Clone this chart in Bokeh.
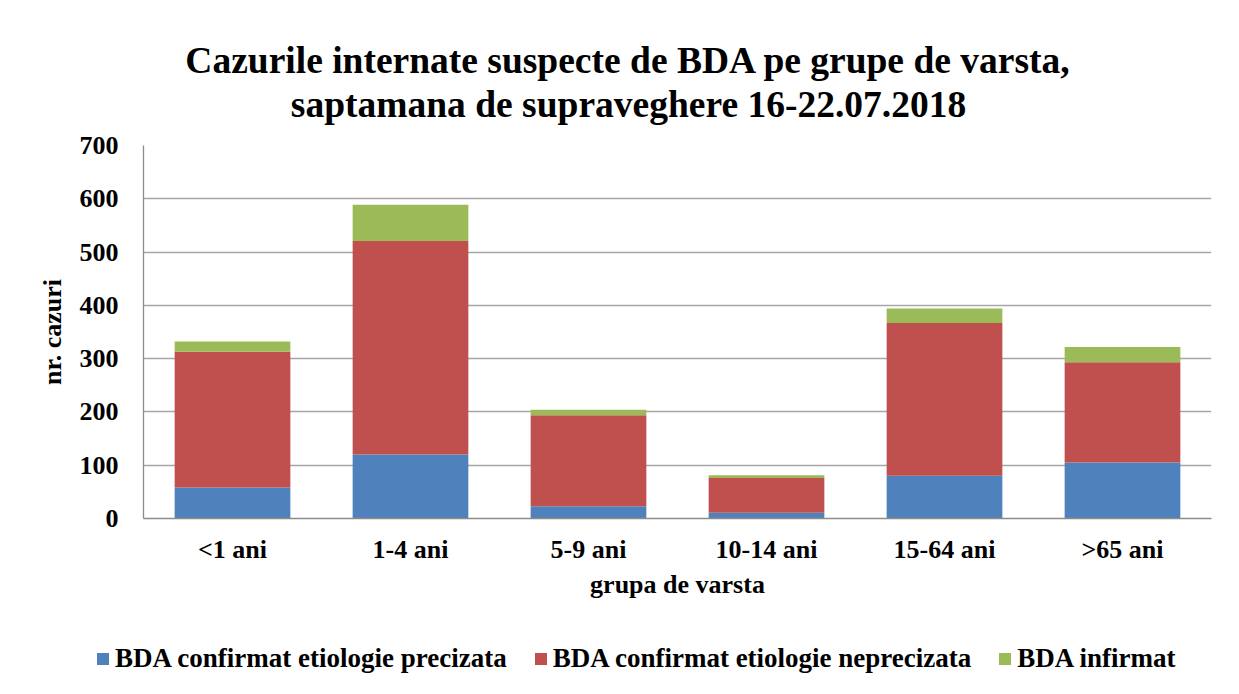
from bokeh.plotting import figure
from bokeh.layouts import column
from bokeh.models import (ColumnDataSource, FactorRange, Range1d, Label, Legend,
                          LegendItem, SingleIntervalTicker)
from bokeh.embed import file_html
from bokeh.resources import INLINE

categories = ["<1 ani", "1-4 ani", "5-9 ani", "10-14 ani", "15-64 ani", ">65 ani"]
precizata = [58, 120, 23, 11, 80, 105]
neprecizata = [255, 401, 171, 65, 287, 188]
infirmat = [19, 68, 10, 5, 27, 29]
series_names = ["BDA confirmat etiologie precizata",
                "BDA confirmat etiologie neprecizata",
                "BDA infirmat"]
series_keys = ["precizata", "neprecizata", "infirmat"]
colors = ["#4F81BD", "#C0504D", "#9BBB59"]
title_lines = ["Cazurile internate suspecte de BDA pe grupe de varsta,",
               "saptamana de supraveghere 16-22.07.2018"]

FONT = "Liberation Serif"
W = 1231

source = ColumnDataSource(dict(cat=categories, precizata=precizata,
                               neprecizata=neprecizata, infirmat=infirmat))


def strip_fig(h, x_range, y_range):
    f = figure(width=W, height=h, x_range=x_range, y_range=y_range,
               output_backend="svg", toolbar_location=None,
               min_border_left=0, min_border_right=0, min_border_top=0, min_border_bottom=0,
               x_axis_type=None, y_axis_type=None, frame_align=False)
    f.xgrid.grid_line_color = None
    f.ygrid.grid_line_color = None
    f.outline_line_color = None
    f.background_fill_color = "white"
    f.border_fill_color = "white"
    return f


# ---- title strip ----
TH = 125
pt = strip_fig(TH, Range1d(0, W), Range1d(0, TH))
for txt, yb in zip(title_lines, [TH - 60, TH - 104]):
    pt.add_layout(Label(x=628, y=yb, text=txt, text_align="center",
                        text_baseline="alphabetic", text_font=FONT,
                        text_font_style="bold", text_font_size="37.5px",
                        text_color="black"))

# ---- main chart ----
p = figure(x_range=FactorRange(*categories, range_padding=0),
           y_range=Range1d(0, 700),
           width=W, height=485,
           output_backend="svg", toolbar_location=None,
           min_border_left=143, min_border_right=20,
           min_border_top=20, min_border_bottom=92, frame_align=False)

p.vbar_stack(series_keys, x="cat", width=0.65, color=colors,
             source=source, line_color=None)

p.outline_line_color = None
p.background_fill_color = "white"
p.border_fill_color = "white"

p.xgrid.grid_line_color = None
p.ygrid.grid_line_color = "#A6A6A6"
p.ygrid.grid_line_width = 1.3
p.yaxis.ticker = SingleIntervalTicker(interval=100)

for ax in (p.xaxis, p.yaxis):
    ax.axis_line_color = "#8C8C8C"
    ax.axis_line_width = 1.3
    ax.major_tick_line_color = None
    ax.minor_tick_line_color = None
    ax.major_tick_out = 0
    ax.major_tick_in = 0
    ax.major_label_text_font = FONT
    ax.major_label_text_font_style = "bold"
    ax.major_label_text_font_size = "26px"
    ax.major_label_text_color = "black"
    ax.axis_label_text_font = FONT
    ax.axis_label_text_font_style = "bold"
    ax.axis_label_text_font_size = "26px"
    ax.axis_label_text_color = "black"

p.yaxis.major_label_standoff = 21
p.yaxis.axis_label = "nr. cazuri"
p.yaxis.axis_label_standoff = 10
p.xaxis.major_label_standoff = 16
p.xaxis.axis_label = "grupa de varsta"
p.xaxis.axis_label_standoff = 3

# ---- legend strip (same stacked series as legend sources, kept out of view) ----
pl = strip_fig(76, FactorRange(*categories, range_padding=0), Range1d(-800, -700))
leg_renderers = pl.vbar_stack(series_keys, x="cat", width=0.0001, color=colors,
                              source=source, line_color=None)
legend = Legend(items=[LegendItem(label=n, renderers=[r])
                       for n, r in zip(series_names, leg_renderers)],
                orientation="horizontal", location=(95, 12),
                label_text_font=FONT, label_text_font_style="bold",
                label_text_font_size="27px", label_text_color="black",
                glyph_width=15, glyph_height=15, label_standoff=5, spacing=26,
                border_line_color=None, background_fill_alpha=0,
                margin=0, padding=0)
pl.add_layout(legend, "center")

layout = column(pt, p, pl, spacing=0)
open("out.html", "w").write(file_html(layout, INLINE))
